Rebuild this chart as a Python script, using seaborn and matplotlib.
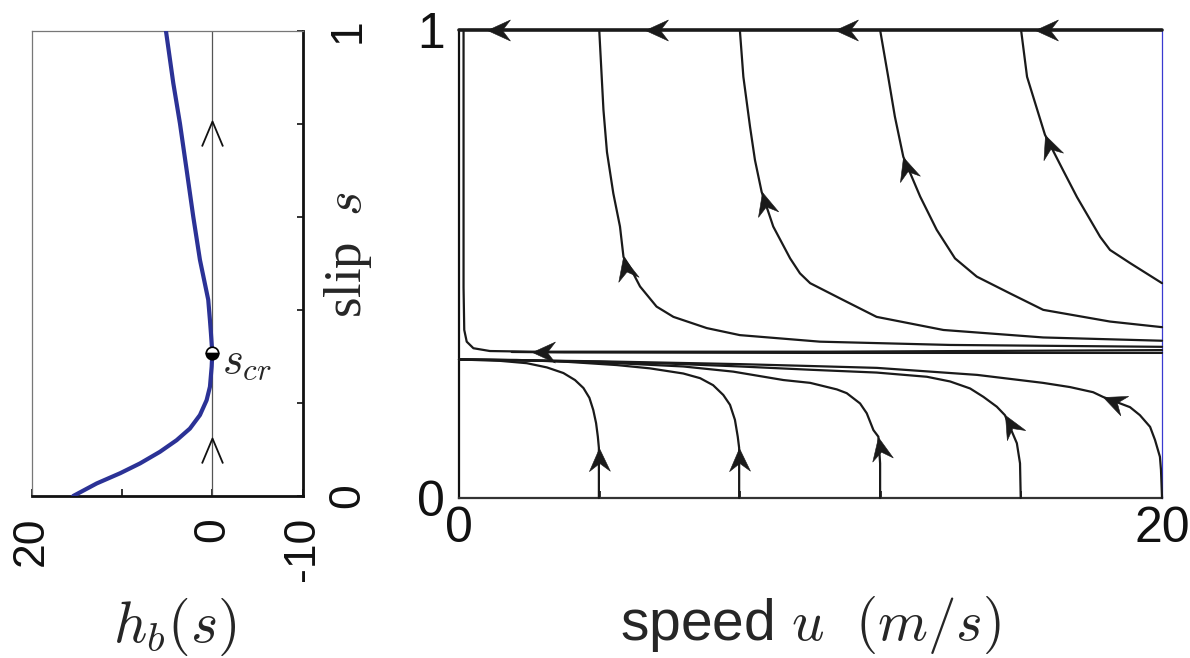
import numpy as np
import pandas as pd
import matplotlib
matplotlib.use("Agg")
import matplotlib.pyplot as plt
import seaborn as sns
from matplotlib.path import Path
from matplotlib.markers import MarkerStyle
from matplotlib.transforms import Affine2D

# ---- left panel: h_b(s)
slip_s = [0, 0.027, 0.049, 0.070, 0.095, 0.120, 0.145, 0.174, 0.206, 0.235, 0.278, 0.308,
          0.350, 0.378, 0.422, 0.508, 0.601, 0.701, 0.801, 0.888, 1.0]
h_b = [15.4, 12.8, 10.2, 8.01, 5.8, 3.95, 2.48, 1.37, 0.63, 0.26, 0.07, 0.0,
       0.15, 0.26, 0.45, 1.37, 2.11, 2.84, 3.58, 4.32, 5.13]
s_cr = 0.308
chevron_s = [0.806, 0.125]

# ---- right panel: trajectories (u, s) in flow order
top_u = [20, 16.4, 10.7, 5.3, 0.8, 0]
top_s = [1, 1, 1, 1, 1, 1]
top_arrows = [1, 2, 3, 4]

A_u = [20, 19.09, 18.52, 18.24, 17.58, 17.18, 16.67, 16.16, 15.99]
A_s = [0.459, 0.502, 0.530, 0.558, 0.643, 0.701, 0.776, 0.900, 1.0]
B_u = [20, 18.52, 16.62, 15.68, 14.73, 14.11, 13.59, 13.12, 12.64, 12.40, 12.21, 11.98]
B_s = [0.365, 0.377, 0.402, 0.437, 0.473, 0.512, 0.573, 0.644, 0.729, 0.815, 0.900, 1.0]
C_u = [20, 16.62, 13.78, 11.88, 10.93, 9.99, 9.70, 9.42, 8.94, 8.61, 8.42, 8.28, 8.09, 7.99]
C_s = [0.336, 0.343, 0.359, 0.387, 0.423, 0.459, 0.480, 0.512, 0.580, 0.654, 0.722, 0.793, 0.900, 1.0]
D_u = [20, 13.97, 10.27, 7.99, 7.05, 6.10, 5.62, 5.15, 4.86, 4.68, 4.58, 4.39, 4.21, 4.11, 4.06, 3.99]
D_s = [0.323, 0.327, 0.334, 0.348, 0.363, 0.387, 0.409, 0.452, 0.494, 0.515, 0.580, 0.651, 0.739,
       0.829, 0.900, 1.0]
E_u = [20, 10.55, 2.07, 0.88, 0.41, 0.22, 0.15, 0.13, 0.13]
E_s = [0.316, 0.3126, 0.3126, 0.314, 0.320, 0.334, 0.359, 0.45, 1.0]
F_u = [20, 10, 3, 1.5]
F_s = [0.310, 0.310, 0.311, 0.312]

L1_u = [3.98, 3.98, 3.95, 3.90, 3.82, 3.71, 3.54, 3.30, 2.97, 2.50, 1.93, 1.17, 0]
L1_s = [0, 0.107, 0.131, 0.160, 0.188, 0.214, 0.235, 0.252, 0.267, 0.279, 0.288, 0.293, 0.296]
L2_u = [7.97, 7.97, 7.93, 7.85, 7.71, 7.52, 7.23, 6.86, 6.38, 5.43, 4.49, 3.06, 1.64, 0]
L2_s = [0, 0.107, 0.131, 0.167, 0.199, 0.220, 0.241, 0.256, 0.266, 0.277, 0.284, 0.291, 0.295, 0.296]
L3_u = [11.98, 11.98, 11.93, 11.79, 11.6, 11.41, 11.03, 10.75, 9.99, 9.23, 7.8, 6.38, 4.49, 2.5, 0]
L3_s = [0, 0.074, 0.131, 0.145, 0.181, 0.202, 0.224, 0.232, 0.246, 0.252, 0.270, 0.281, 0.288, 0.293, 0.296]
L4_u = [15.98, 15.96, 15.87, 15.53, 15.3, 14.92, 14.54, 13.97, 13.31, 11.88, 9.99, 8, 6, 4, 2, 0]
L4_s = [0, 0.074, 0.117, 0.177, 0.195, 0.216, 0.234, 0.249, 0.259, 0.268, 0.274, 0.281, 0.287,
        0.291, 0.294, 0.296]
L5_u = [20, 19.97, 19.94, 19.8, 19.66, 19.37, 19.09, 18.32, 18.04, 17.38, 16.61, 14.74, 11.89, 9.99,
        8, 6, 4, 2, 0]
L5_s = [0, 0.06, 0.088, 0.124, 0.152, 0.177, 0.194, 0.216, 0.226, 0.237, 0.246, 0.263, 0.278, 0.282,
        0.286, 0.289, 0.292, 0.294, 0.296]

# name: (u, s, indices of arrow tips)
trajectories = {
    "A": (A_u, A_s, [6]), "B": (B_u, B_s, [8]), "C": (C_u, C_s, [9]),
    "D": (D_u, D_s, [9]), "E": (E_u, E_s, [2]), "F": (F_u, F_s, []),
    "L1": (L1_u, L1_s, [1]), "L2": (L2_u, L2_s, [1]), "L3": (L3_u, L3_s, [2]),
    "L4": (L4_u, L4_s, [3]), "L5": (L5_u, L5_s, [7]),
}

sns.set_theme(style="white")
plt.rcParams["font.family"] = ["Liberation Sans", "DejaVu Sans"]
plt.rcParams["mathtext.fontset"] = "cm"

fig = plt.figure(figsize=(11.9, 6.58), dpi=100)
axL = fig.add_axes([0.0266, 0.2462, 0.2277, 0.7067])
axR = fig.add_axes([0.3857, 0.2432, 0.5908, 0.7112])

# ---------------- left panel
axL.axvline(0, color="#555555", lw=0.9, zorder=1)
sns.lineplot(x=h_b, y=slip_s, sort=False, estimator=None, color="#2b3296", lw=3.0, ax=axL, zorder=3)
axL.set_xlim(20, -10)
axL.set_ylim(0, 1)

chev = Path([(-10.5, -25), (0, 0), (10.5, -25)], [Path.MOVETO, Path.LINETO, Path.LINETO])
axL.plot([0] * len(chevron_s), chevron_s, ls="none", marker=MarkerStyle(chev, fillstyle="none"),
         ms=36, mec="#111111", mew=1.3, zorder=4)
axL.plot([0], [s_cr], ls="none", marker="o", ms=9, fillstyle="bottom", mfc="black",
         markerfacecoloralt="white", mec="black", mew=1.2, zorder=5)
axL.annotate(r"$s_{cr}$", xy=(0, s_cr), xytext=(7, -14), textcoords="offset points",
             fontsize=32, ha="left", va="baseline")

for side in ["left", "top"]:
    axL.spines[side].set_color("#777777")
    axL.spines[side].set_linewidth(0.9)
for side in ["right", "bottom"]:
    axL.spines[side].set_color("#111111")
    axL.spines[side].set_linewidth(2.0)

axL.set_xticks([20, 10, 0, -10])
axL.set_xticklabels(["20", "", "0", "-10"], rotation=90, fontsize=32)
axL.yaxis.tick_right()
axL.set_yticks([0, 0.2, 0.4, 0.6, 0.8, 1.0])
axL.set_yticklabels(["0", "", "", "", "", "1"], rotation=90, fontsize=32, va="center")
axL.tick_params(axis="x", direction="in", length=5, width=1.2, pad=15, bottom=True, colors="#111111")
axL.tick_params(axis="y", direction="in", length=4, width=1.2, pad=18, right=True, left=False, colors="#111111")
axL.set_xlabel(r"$h_b(s)$", fontsize=42)
axL.xaxis.set_label_coords(0.529, -0.215)
axL.yaxis.set_label_position("right")
axL.set_ylabel(r"slip  $s$", fontsize=38, family=["Liberation Serif", "DejaVu Serif"])
axL.yaxis.set_label_coords(1.07, 0.52)

# ---------------- right panel
rows = []
for name, (us, ss, _) in trajectories.items():
    for i, (u, s) in enumerate(zip(us, ss)):
        rows.append({"traj": name, "order": i, "u": u, "s": s})
traj_df = pd.DataFrame(rows)

sns.lineplot(data=traj_df, x="u", y="s", units="traj", estimator=None, sort=False,
             color="#1a1a1a", lw=1.6, ax=axR, clip_on=False, zorder=3)
sns.lineplot(x=top_u, y=top_s, sort=False, estimator=None, color="#1a1a1a", lw=2.6,
             ax=axR, clip_on=False, zorder=3)
axR.set_xlim(0, 20)
axR.set_ylim(0, 1)

dart = Path([(0, 0), (-23, 10.5), (-15, 0), (-23, -10.5), (0, 0)],
            [Path.MOVETO, Path.LINETO, Path.LINETO, Path.LINETO, Path.CLOSEPOLY])


def put_arrows(us, ss, idxs):
    pts = axR.transData.transform(np.column_stack([us, ss]))
    for i in idxs:
        a = pts[max(i - 1, 0)]
        b = pts[min(i + 1, len(pts) - 1)]
        ang = np.degrees(np.arctan2(b[1] - a[1], b[0] - a[0]))
        axR.plot([us[i]], [ss[i]], ls="none", marker=MarkerStyle(dart, transform=Affine2D().rotate_deg(ang)),
                 ms=33, mfc="#1a1a1a", mec="#1a1a1a", mew=0.4, zorder=6, clip_on=False)


put_arrows(top_u, top_s, top_arrows)
for name, (us, ss, idxs) in trajectories.items():
    put_arrows(us, ss, idxs)

axR.spines["top"].set_visible(False)
axR.spines["right"].set_color("#3a3ad0")
axR.spines["right"].set_linewidth(0.9)
axR.spines["left"].set_color("#111111")
axR.spines["left"].set_linewidth(1.6)
axR.spines["bottom"].set_color("#333333")
axR.spines["bottom"].set_linewidth(1.6)

axR.set_xticks([0, 4, 8, 12, 16, 20])
axR.set_xticklabels(["0", "", "", "", "", "20"], fontsize=36)
axR.set_yticks([0, 1.0])
axR.set_yticklabels(["0", "1"], fontsize=36)
axR.tick_params(axis="x", direction="in", length=5, width=1.2, pad=6, colors="#111111", bottom=True)
axR.tick_params(axis="y", length=0, width=0, pad=10, colors="#111111", left=False, right=False,
                labelleft=True)
axR.set_xlabel(r"speed $u$  $(m/s)$", fontsize=41)
axR.xaxis.set_label_coords(0.5, -0.205)
axR.set_ylabel("")

fig.savefig("out.png", dpi=100)
